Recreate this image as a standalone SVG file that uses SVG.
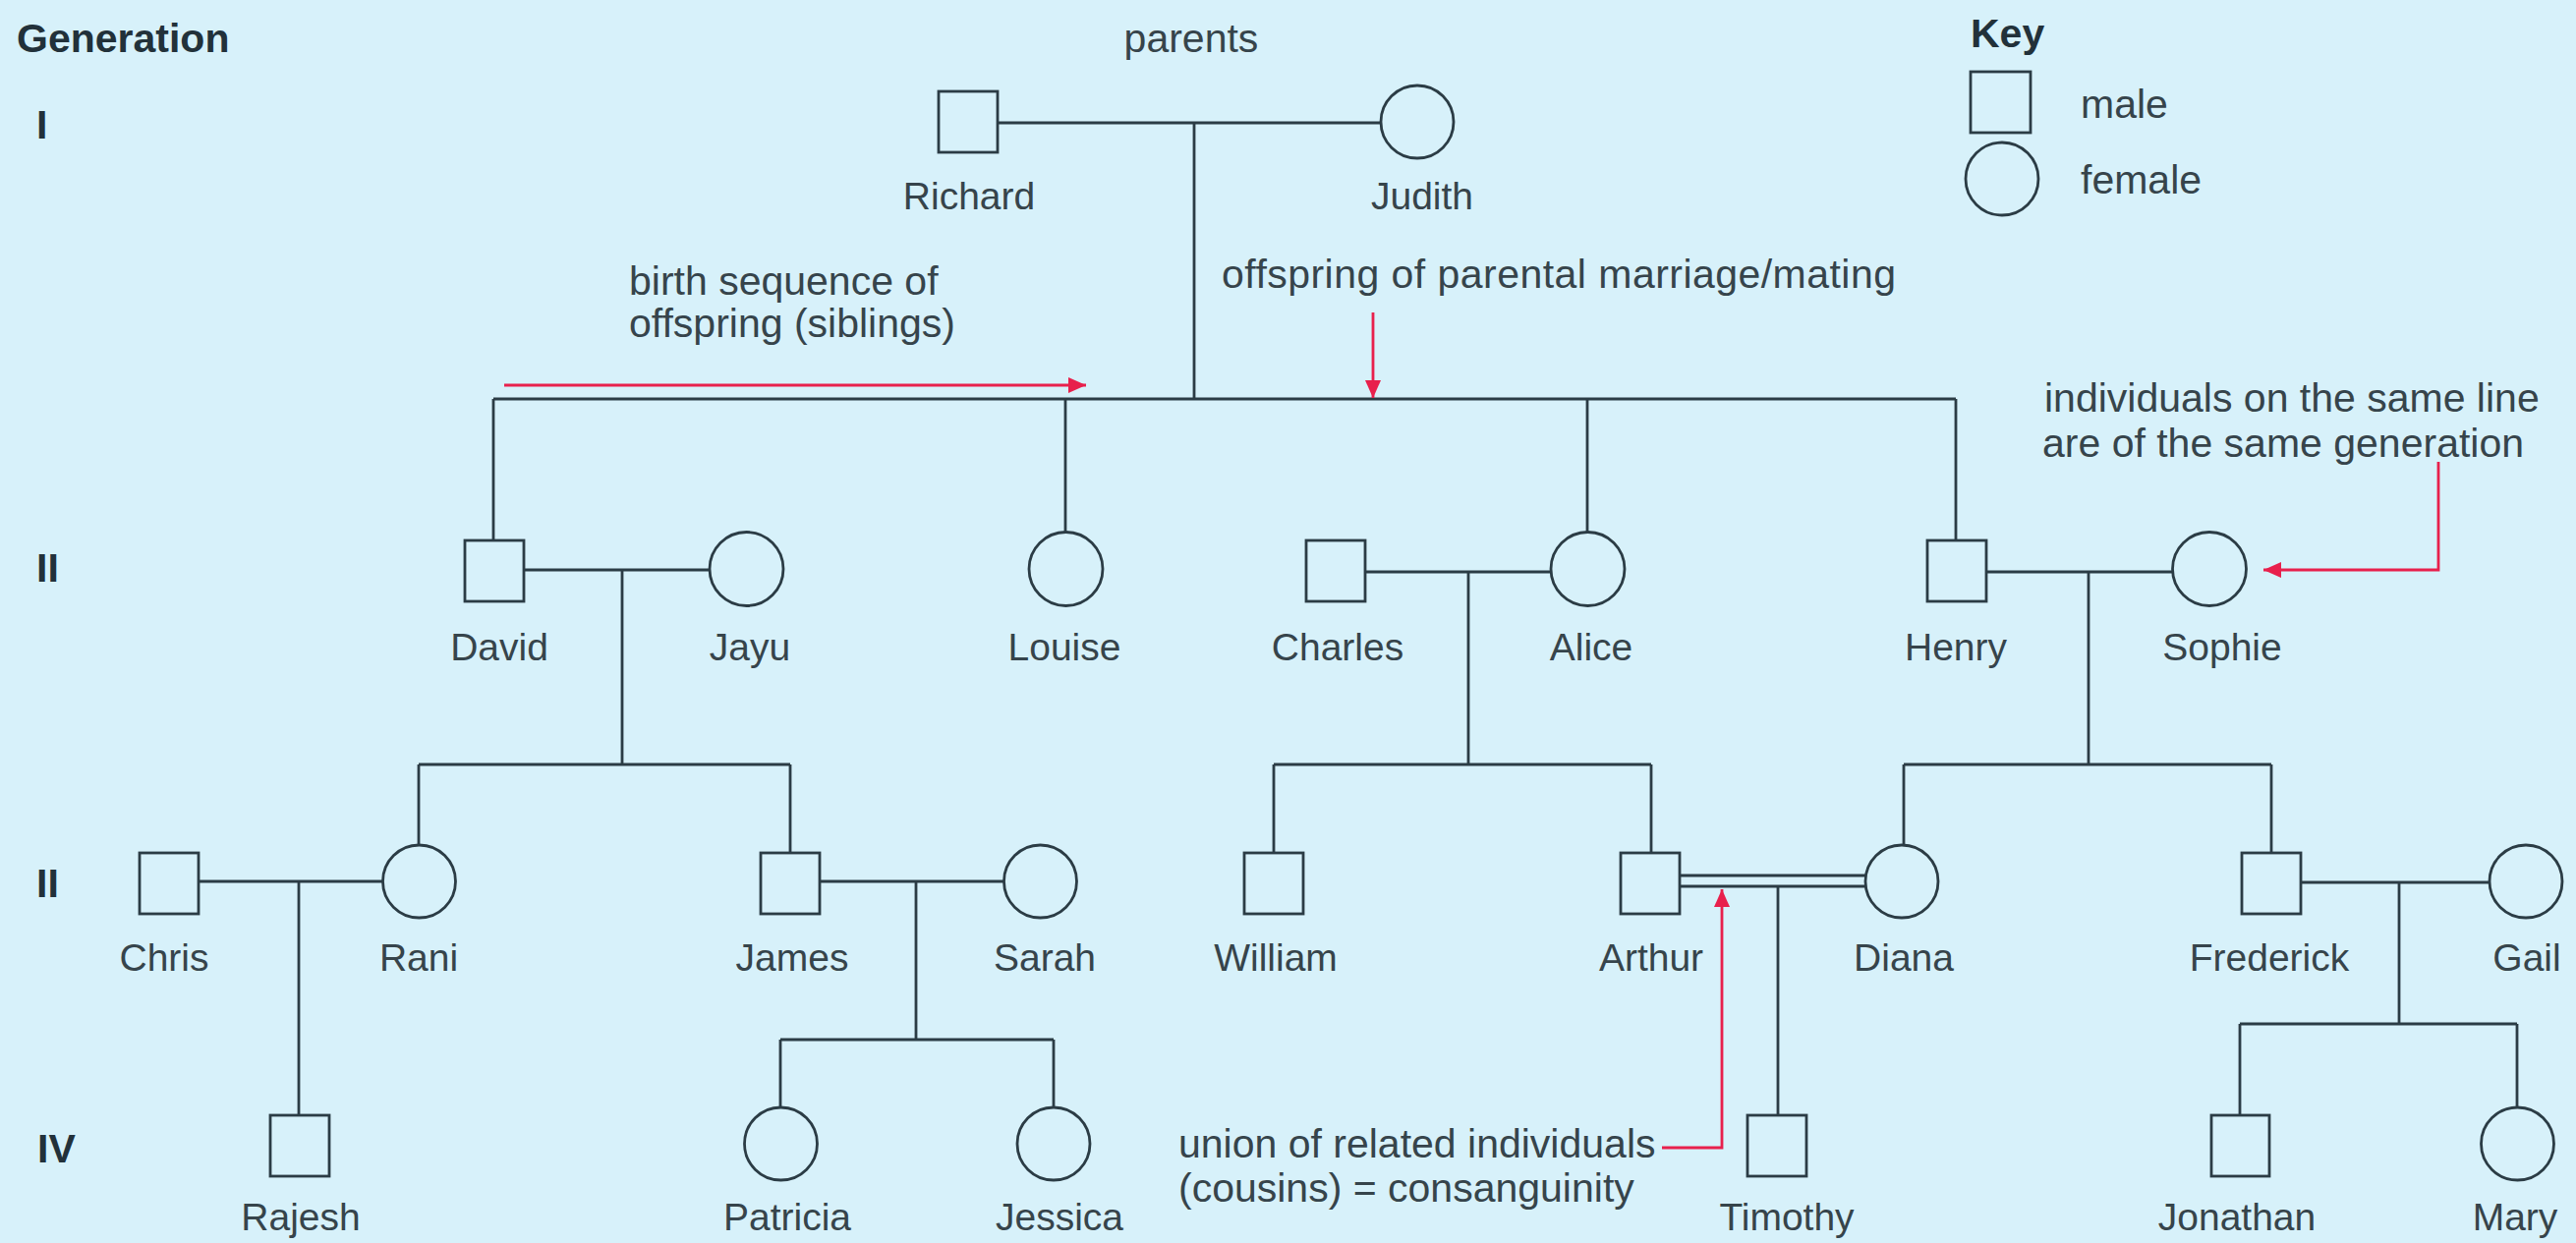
<svg xmlns="http://www.w3.org/2000/svg" width="2621" height="1265" viewBox="0 0 2621 1265">
  <defs>
    <style>
      .bg { fill: #d7f1fa; }
      .sym { fill: none; stroke: #2b3c45; stroke-width: 2.8; }
      .ln { fill: none; stroke: #2b3c45; stroke-width: 2.8; }
      .red { fill: none; stroke: #e8204c; stroke-width: 2.8; }
      .name { font-family: "Liberation Sans", Arial, sans-serif; font-size: 39px; fill: #36444b; text-anchor: middle; }
      .note { font-family: "Liberation Sans", Arial, sans-serif; font-size: 41px; fill: #36444b; }
      .head { font-family: "Liberation Sans", Arial, sans-serif; font-size: 41px; font-weight: bold; fill: #22313a; }
    </style>
    <marker id="arrow" viewBox="0 0 18 16" refX="18" refY="8" markerWidth="18" markerHeight="16" markerUnits="userSpaceOnUse" orient="auto">
      <path d="M0,0 L18,8 L0,16 Z" fill="#e8204c"/>
    </marker>
  </defs>

  <rect class="bg" x="0" y="0" width="2621" height="1265"/>

  <!-- generation column -->
  <g id="generations">
    <text class="head" x="17" y="53">Generation</text>
    <text class="head" x="37" y="141">I</text>
    <text class="head" x="37" y="592">II</text>
    <text class="head" x="37" y="913">II</text>
    <text class="head" x="38" y="1183">IV</text>
  </g>

  <!-- key -->
  <g id="key">
    <text class="head" x="2005" y="48">Key</text>
    <rect class="sym" x="2005" y="73" width="61" height="62"/>
    <text class="note" x="2117" y="120">male</text>
    <circle class="sym" cx="2037" cy="182" r="37"/>
    <text class="note" x="2117" y="197">female</text>
  </g>

  <!-- family lines -->
  <g id="connectors">
    <!-- generation I -->
    <line class="ln" x1="1015" y1="125" x2="1405" y2="125"/>
    <line class="ln" x1="1215" y1="125" x2="1215" y2="406"/>
    <line class="ln" x1="502" y1="406" x2="1990" y2="406"/>
    <line class="ln" x1="502" y1="406" x2="502" y2="550"/>
    <line class="ln" x1="1084" y1="406" x2="1084" y2="541"/>
    <line class="ln" x1="1615" y1="406" x2="1615" y2="541"/>
    <line class="ln" x1="1990" y1="406" x2="1990" y2="550"/>
    <!-- David and Jayu -->
    <line class="ln" x1="534" y1="580" x2="722" y2="580"/>
    <line class="ln" x1="633" y1="580" x2="633" y2="778"/>
    <line class="ln" x1="426" y1="778" x2="804" y2="778"/>
    <line class="ln" x1="426" y1="778" x2="426" y2="860"/>
    <line class="ln" x1="804" y1="778" x2="804" y2="868"/>
    <!-- Charles and Alice -->
    <line class="ln" x1="1390" y1="582" x2="1578" y2="582"/>
    <line class="ln" x1="1494" y1="582" x2="1494" y2="778"/>
    <line class="ln" x1="1296" y1="778" x2="1680" y2="778"/>
    <line class="ln" x1="1296" y1="778" x2="1296" y2="868"/>
    <line class="ln" x1="1680" y1="778" x2="1680" y2="868"/>
    <!-- Henry and Sophie -->
    <line class="ln" x1="2022" y1="582" x2="2210" y2="582"/>
    <line class="ln" x1="2125" y1="582" x2="2125" y2="778"/>
    <line class="ln" x1="1937" y1="778" x2="2311" y2="778"/>
    <line class="ln" x1="1937" y1="778" x2="1937" y2="860"/>
    <line class="ln" x1="2311" y1="778" x2="2311" y2="868"/>
    <!-- Chris and Rani -->
    <line class="ln" x1="203" y1="897" x2="389" y2="897"/>
    <line class="ln" x1="304" y1="897" x2="304" y2="1135"/>
    <!-- James and Sarah -->
    <line class="ln" x1="835" y1="897" x2="1021" y2="897"/>
    <line class="ln" x1="932" y1="897" x2="932" y2="1058"/>
    <line class="ln" x1="794" y1="1058" x2="1072" y2="1058"/>
    <line class="ln" x1="794" y1="1058" x2="794" y2="1127"/>
    <line class="ln" x1="1072" y1="1058" x2="1072" y2="1127"/>
    <!-- Arthur and Diana (consanguineous union) -->
    <line class="ln" x1="1710" y1="891" x2="1899" y2="891"/>
    <line class="ln" x1="1710" y1="902" x2="1899" y2="902"/>
    <line class="ln" x1="1809" y1="902" x2="1809" y2="1135"/>
    <!-- Frederick and Gail -->
    <line class="ln" x1="2342" y1="898" x2="2533" y2="898"/>
    <line class="ln" x1="2441" y1="898" x2="2441" y2="1042"/>
    <line class="ln" x1="2279" y1="1042" x2="2561" y2="1042"/>
    <line class="ln" x1="2279" y1="1042" x2="2279" y2="1135"/>
    <line class="ln" x1="2561" y1="1042" x2="2561" y2="1127"/>
  </g>

  <!-- generation I -->
  <g id="richard"><rect class="sym" x="955" y="93" width="60" height="62"/><text class="name" x="986" y="213">Richard</text></g>
  <g id="judith"><circle class="sym" cx="1442" cy="124" r="37"/><text class="name" x="1447" y="213">Judith</text></g>

  <!-- generation II -->
  <g id="david"><rect class="sym" x="473" y="550" width="60" height="62"/><text class="name" x="508" y="672">David</text></g>
  <g id="jayu"><circle class="sym" cx="759.5" cy="579" r="37.5"/><text class="name" x="763" y="672">Jayu</text></g>
  <g id="louise"><circle class="sym" cx="1084.5" cy="579" r="37.5"/><text class="name" x="1083" y="672">Louise</text></g>
  <g id="charles"><rect class="sym" x="1329" y="550" width="60" height="62"/><text class="name" x="1361" y="672">Charles</text></g>
  <g id="alice"><circle class="sym" cx="1615.5" cy="579" r="37.5"/><text class="name" x="1619" y="672">Alice</text></g>
  <g id="henry"><rect class="sym" x="1961" y="550" width="60" height="62"/><text class="name" x="1990" y="672">Henry</text></g>
  <g id="sophie"><circle class="sym" cx="2248" cy="579" r="37.5"/><text class="name" x="2261" y="672">Sophie</text></g>

  <!-- generation III -->
  <g id="chris"><rect class="sym" x="142" y="868" width="60" height="62"/><text class="name" x="167" y="988">Chris</text></g>
  <g id="rani"><circle class="sym" cx="426.5" cy="897" r="37"/><text class="name" x="426" y="988">Rani</text></g>
  <g id="james"><rect class="sym" x="774" y="868" width="60" height="62"/><text class="name" x="806" y="988">James</text></g>
  <g id="sarah"><circle class="sym" cx="1058.5" cy="897" r="37"/><text class="name" x="1063" y="988">Sarah</text></g>
  <g id="william"><rect class="sym" x="1266" y="868" width="60" height="62"/><text class="name" x="1298" y="988">William</text></g>
  <g id="arthur"><rect class="sym" x="1649" y="868" width="60" height="62"/><text class="name" x="1680" y="988">Arthur</text></g>
  <g id="diana"><circle class="sym" cx="1935" cy="897" r="37"/><text class="name" x="1937" y="988">Diana</text></g>
  <g id="frederick"><rect class="sym" x="2281" y="868" width="60" height="62"/><text class="name" x="2309" y="988">Frederick</text></g>
  <g id="gail"><circle class="sym" cx="2570" cy="897" r="37"/><text class="name" x="2571" y="988">Gail</text></g>

  <!-- generation IV -->
  <g id="rajesh"><rect class="sym" x="275" y="1135" width="60" height="62"/><text class="name" x="306" y="1252">Rajesh</text></g>
  <g id="patricia"><circle class="sym" cx="794.5" cy="1164" r="37"/><text class="name" x="801" y="1252">Patricia</text></g>
  <g id="jessica"><circle class="sym" cx="1072" cy="1164" r="37"/><text class="name" x="1078" y="1252">Jessica</text></g>
  <g id="timothy"><rect class="sym" x="1778" y="1135" width="60" height="62"/><text class="name" x="1818" y="1252">Timothy</text></g>
  <g id="jonathan"><rect class="sym" x="2250" y="1135" width="59" height="62"/><text class="name" x="2276" y="1252">Jonathan</text></g>
  <g id="mary"><circle class="sym" cx="2561.5" cy="1164" r="37"/><text class="name" x="2559" y="1252">Mary</text></g>

  <!-- annotations -->
  <g id="annotations">
    <text class="note" x="1212" y="53" text-anchor="middle">parents</text>
    <text class="note" x="640" y="300">birth sequence of</text>
    <text class="note" x="640" y="343">offspring (siblings)</text>
    <line class="red" x1="513" y1="392" x2="1105" y2="392" marker-end="url(#arrow)"/>
    <text class="note" x="1243" y="293" textLength="686">offspring of parental marriage/mating</text>
    <line class="red" x1="1397" y1="318" x2="1397" y2="405" marker-end="url(#arrow)"/>
    <text class="note" x="2080" y="419">individuals on the same line</text>
    <text class="note" x="2078" y="465">are of the same generation</text>
    <polyline class="red" points="2481,470 2481,580 2303,580" marker-end="url(#arrow)"/>
    <text class="note" x="1199" y="1178">union of related individuals</text>
    <text class="note" x="1199" y="1223">(cousins) = consanguinity</text>
    <polyline class="red" points="1691,1168 1752,1168 1752,905" marker-end="url(#arrow)"/>
  </g>
</svg>
